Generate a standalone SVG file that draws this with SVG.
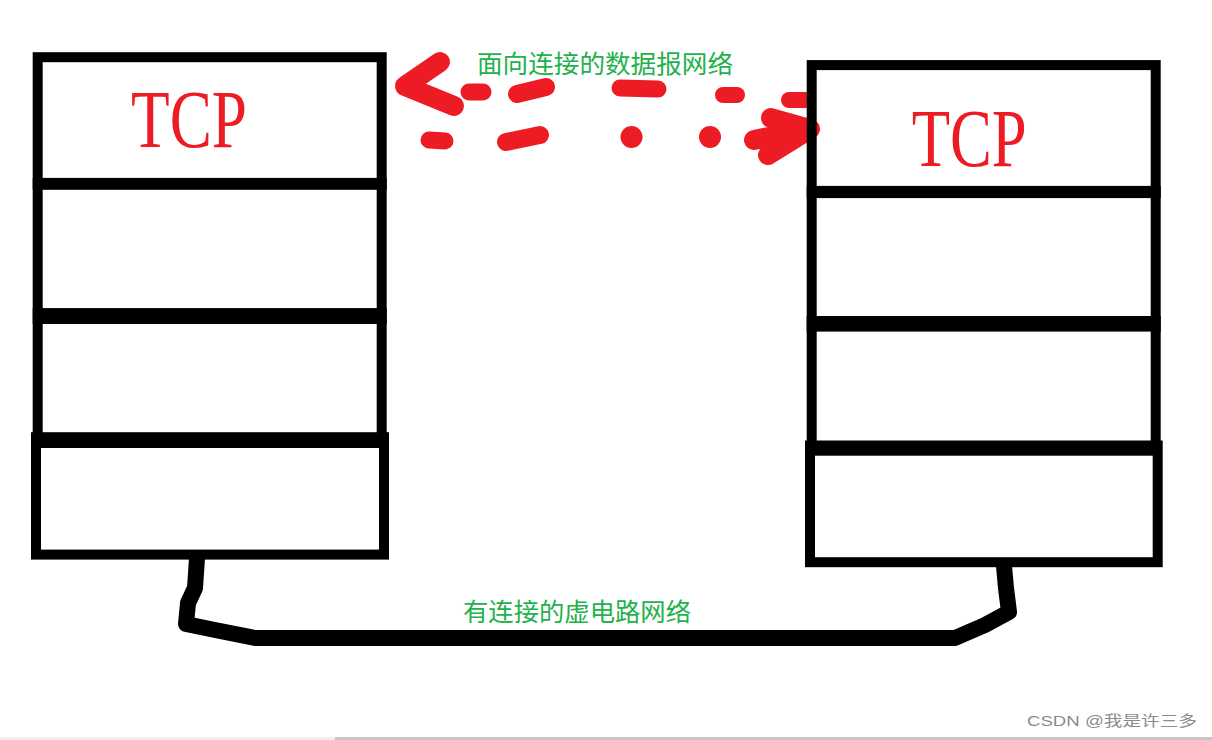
<svg xmlns="http://www.w3.org/2000/svg" width="1212" height="740" viewBox="0 0 1212 740">
<style>
.layer{fill:none;stroke:#000;stroke-width:10}
.tcp{font-family:"Liberation Serif","Times New Roman",serif;font-size:83px;fill:#ED1C24}
.lbl{font-family:"Noto Sans CJK SC","Noto Sans",sans-serif;font-size:25px;fill:#22B14C}
.red{fill:none;stroke:#ED1C24;stroke-linecap:round;stroke-linejoin:round}
.wm{font-family:"Liberation Sans","Noto Sans CJK SC",sans-serif;font-size:15px;fill:#8c8c8c}
</style>
<rect x="0" y="0" width="1212" height="740" fill="#fff"/>
<g id="connectors">
  <g id="datagram-arrow">
    <polyline class="red" stroke-width="20" points="440,62 405,86 454,106"/>
    <line class="red" stroke-width="17" x1="469" y1="92" x2="483" y2="92"/>
    <line class="red" stroke-width="18" x1="517" y1="94" x2="546" y2="87"/>
    <line class="red" stroke-width="17" x1="620" y1="88" x2="658" y2="89"/>
    <line class="red" stroke-width="16" x1="723" y1="95" x2="737" y2="95"/>
    <line class="red" stroke-width="16" x1="789" y1="100" x2="806" y2="100"/>
    <line class="red" stroke-width="17" x1="429" y1="140" x2="445" y2="141"/>
    <line class="red" stroke-width="18" x1="506" y1="142" x2="540" y2="135"/>
    <circle cx="631.5" cy="137" r="11" fill="#ED1C24"/>
    <circle cx="710" cy="137" r="11" fill="#ED1C24"/>
    <line class="red" stroke-width="20" x1="754" y1="140" x2="808" y2="129"/>
    <polyline class="red" stroke-width="20" points="771,118 810,129 768,155"/>
  </g>
  <path id="virtual-circuit" d="M197,558 L195,588 L188,603 L186,624 L215,630 L255,638 L955,638 L985,625 L1009,612 L1006,588 L1004,566" fill="none" stroke="#000" stroke-width="16" stroke-linejoin="round"/>
</g>
<g id="left-stack">
  <rect class="layer" x="37.7" y="57.2" width="344" height="127.6"/>
  <rect class="layer" x="37.7" y="182.9" width="344" height="136.1"/>
  <rect class="layer" x="37.7" y="313.1" width="344" height="129.9"/>
  <rect class="layer" x="36" y="437.2" width="348" height="117.4"/>
  <text class="tcp" x="131" y="146.5" textLength="116" lengthAdjust="spacingAndGlyphs">TCP</text>
</g>
<g id="right-stack">
  <rect class="layer" x="811.7" y="65.1" width="344" height="128"/>
  <rect class="layer" x="811.7" y="190.9" width="344" height="135.7"/>
  <rect class="layer" x="811.7" y="321" width="344" height="129.7"/>
  <rect class="layer" x="810" y="445.5" width="347.7" height="116.7"/>
  <text class="tcp" x="911.7" y="166" textLength="115" lengthAdjust="spacingAndGlyphs">TCP</text>
</g>
<text class="lbl" x="477" y="72.5" textLength="256" lengthAdjust="spacingAndGlyphs">面向连接的数据报网络</text>
<text class="lbl" x="463" y="621" textLength="228" lengthAdjust="spacingAndGlyphs">有连接的虚电路网络</text>
<text class="wm" x="1027" y="726" textLength="170" lengthAdjust="spacingAndGlyphs">CSDN @我是许三多</text>
<rect x="0" y="737" width="335" height="3" fill="#eeeeee"/>
<rect x="335" y="737" width="877" height="3" fill="#c8c8c8"/>
</svg>
